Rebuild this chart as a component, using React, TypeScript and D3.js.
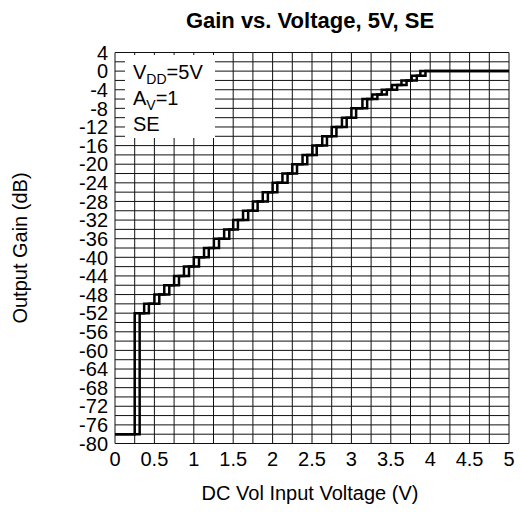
import React from "react";
import * as d3 from "d3";

const levels = [-52, -50, -48, -46, -44, -42, -40, -38, -36, -34, -32, -30, -28, -26, -24, -22, -20, -18, -16, -14, -12, -10, -8, -6, -5, -4, -3, -2, -1, 0];
const downV = [0.25, 0.37, 0.5, 0.625, 0.75, 0.875, 1.0, 1.13, 1.255, 1.385, 1.5, 1.625, 1.75, 1.875, 2.0, 2.125, 2.25, 2.38, 2.505, 2.63, 2.75, 2.88, 3.0, 3.14, 3.265, 3.385, 3.515, 3.635, 3.765, 3.875];
const upV = [0.313, 0.43, 0.562, 0.689, 0.812, 0.939, 1.066, 1.19, 1.32, 1.45, 1.56, 1.69, 1.81, 1.94, 2.06, 2.19, 2.31, 2.44, 2.56, 2.69, 2.81, 2.94, 3.06, 3.2, 3.33, 3.45, 3.58, 3.7, 3.83, 3.94];
const floorLevel = -78;
const xTicks = [0, 0.5, 1, 1.5, 2, 2.5, 3, 3.5, 4, 4.5, 5];
const xTickLabels = ["0", "0.5", "1", "1.5", "2", "2.5", "3", "3.5", "4", "4.5", "5"];
const yTicks = [4, 0, -4, -8, -12, -16, -20, -24, -28, -32, -36, -40, -44, -48, -52, -56, -60, -64, -68, -72, -76, -80];
const xGrid = d3.range(0, 5.0001, 0.25);
const yGrid = d3.range(-80, 4.0001, 2);

const FONT = "'Liberation Sans', Arial, Helvetica, sans-serif";

export default function App() {
  const left = 115, right = 509, top = 52.5, bottom = 443.5;
  const x = d3.scaleLinear().domain([0, 5]).range([left, right]);
  const y = d3.scaleLinear().domain([-80, 4]).range([bottom, top]);

  const mk = (vs: number[]) => {
    const pts: [number, number][] = [[0, floorLevel]];
    vs.forEach((v, i) => pts.push([v, levels[i]]));
    pts.push([5, 0]);
    return d3.line<[number, number]>().x(d => x(d[0])).y(d => y(d[1])).curve(d3.curveStepAfter)(pts) || "";
  };

  // inset box region
  const boxX0 = 125, boxX1 = 215, boxY0 = 55, boxY1 = 138;

  return (
    <svg width={521} height={512} style={{ position: "absolute", left: 0, top: 0, background: "#fff" }} fontFamily={FONT}>
      <rect x={0} y={0} width={521} height={512} fill="#fff" />
      <text x={310} y={28} textAnchor="middle" fontSize={22} fontWeight="bold" fill="#000">Gain vs. Voltage, 5V, SE</text>
      {yGrid.map(g => (
        <line key={"h" + g} x1={left} x2={right} y1={y(g)} y2={y(g)} stroke="#111" strokeWidth={1} />
      ))}
      {xGrid.map(g => (
        <line key={"v" + g} x1={x(g)} x2={x(g)} y1={top} y2={bottom} stroke="#111" strokeWidth={1} />
      ))}
      <rect x={boxX0} y={boxY0} width={boxX1 - boxX0} height={boxY1 - boxY0} fill="#fff" />
      <text x={133} y={79} fontSize={20} fill="#000">
        V<tspan fontSize={14} dy={5}>DD</tspan><tspan dy={-5}>=5V</tspan>
      </text>
      <text x={133} y={105} fontSize={20} fill="#000">
        A<tspan fontSize={14} dy={5}>V</tspan><tspan dy={-5}>=1</tspan>
      </text>
      <text x={133} y={131} fontSize={20} fill="#000">SE</text>
      <path d={mk(downV)} fill="none" stroke="#000" strokeWidth={2.5} />
      <path d={mk(upV)} fill="none" stroke="#000" strokeWidth={2.5} />
      {yTicks.map((t, i) => (
        <text key={"yt" + i} x={108} y={y(t)} dy="0.36em" textAnchor="end" fontSize={20} fill="#000">{t}</text>
      ))}
      {xTicks.map((t, i) => (
        <text key={"xt" + i} x={x(t)} y={466} textAnchor="middle" fontSize={20} fill="#000">{xTickLabels[i]}</text>
      ))}
      <text x={310} y={500} textAnchor="middle" fontSize={20} fill="#000">DC Vol Input Voltage (V)</text>
      <text transform={`translate(27,${(top + bottom) / 2}) rotate(-90)`} textAnchor="middle" fontSize={20} fill="#000">Output Gain (dB)</text>
    </svg>
  );
}
